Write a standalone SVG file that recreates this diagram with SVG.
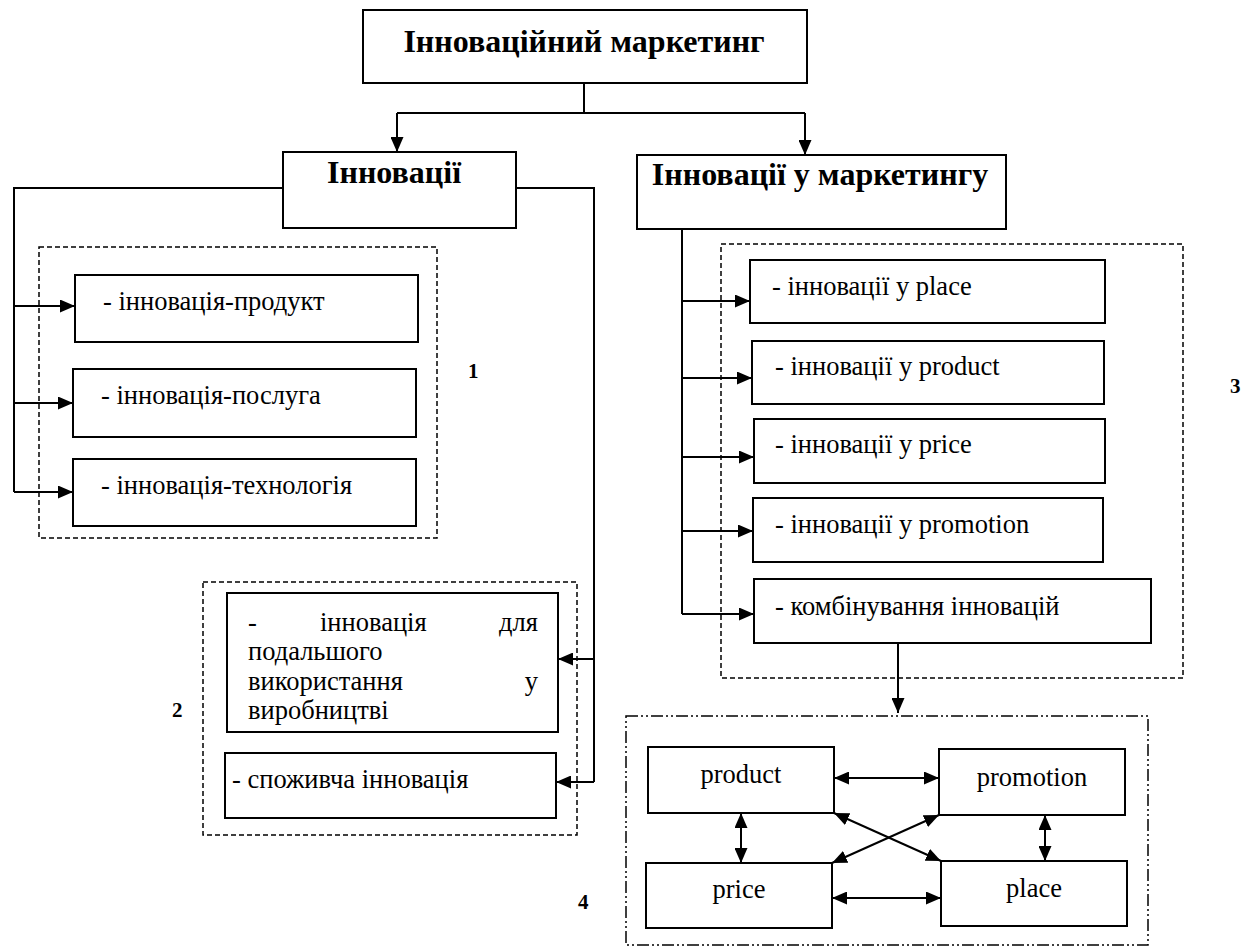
<svg xmlns="http://www.w3.org/2000/svg" width="1257" height="947" viewBox="0 0 1257 947" font-family="Liberation Serif, DejaVu Serif, serif">
<style>
.box{fill:#fff;stroke:#000;stroke-width:2}
.grp{fill:none;stroke:#000;stroke-width:1.5;stroke-dasharray:5 3}
.grp4{fill:none;stroke:#000;stroke-width:1.5;stroke-dasharray:12 3 2 3 2 3}
.ln{fill:none;stroke:#000;stroke-width:2}
.arr{marker-end:url(#ah)}
.dbl{marker-end:url(#ah);marker-start:url(#ah)}
.t{font-size:26.5px}
.b{font-size:32px;font-weight:bold}
.n{font-size:21px;font-weight:bold}
</style>
<defs>
<marker id="ah" markerUnits="userSpaceOnUse" markerWidth="15" markerHeight="13" refX="15" refY="6.5" orient="auto-start-reverse">
<path d="M0,0 L15,6.5 L0,13 z" fill="#000"/>
</marker>
</defs>
<g id="groups">
<rect class="grp" x="39" y="247" width="398" height="291"/>
<rect class="grp" x="203" y="582" width="374" height="253"/>
<rect class="grp" x="721" y="244" width="462" height="434"/>
<rect class="grp4" x="626" y="716" width="522" height="229"/>
</g>
<g id="connectors">
<path class="ln" d="M584,83 V113 M397,113 H805"/>
<path class="ln arr" d="M397,113 V152"/>
<path class="ln arr" d="M805,113 V155"/>
<path class="ln" d="M283,188 H14 V492"/>
<path class="ln arr" d="M14,306 H75"/>
<path class="ln arr" d="M14,403 H73"/>
<path class="ln arr" d="M14,492 H73"/>
<path class="ln" d="M516,188 H594 V782"/>
<path class="ln arr" d="M594,659 H558"/>
<path class="ln arr" d="M594,782 H556"/>
<path class="ln" d="M682,229 V614"/>
<path class="ln arr" d="M682,301 H750"/>
<path class="ln arr" d="M682,378 H752"/>
<path class="ln arr" d="M682,457 H754"/>
<path class="ln arr" d="M682,531 H753"/>
<path class="ln arr" d="M682,614 H754"/>
<path class="ln arr" d="M898,643 V713"/>
<path class="ln dbl" d="M834,778 H939"/>
<path class="ln dbl" d="M832,898 H941"/>
<path class="ln dbl" d="M741,813 V863"/>
<path class="ln dbl" d="M1045,815 V861"/>
<path class="ln dbl" d="M834,813 L941,861"/>
<path class="ln dbl" d="M939,815 L832,863"/>
</g>
<g id="n-top"><rect class="box" x="363" y="10" width="444" height="73"/><text class="b" x="584" y="52" text-anchor="middle">Інноваційний маркетинг</text></g>
<g id="n-inn"><rect class="box" x="283" y="152" width="233" height="76"/><text class="b" x="394" y="183" text-anchor="middle">Інновації</text></g>
<g id="n-innm"><rect class="box" x="637" y="155" width="369" height="74"/><text class="b" x="820" y="185" text-anchor="middle">Інновації у маркетингу</text></g>
<g id="n-l1"><rect class="box" x="75" y="275" width="343" height="67"/><text class="t" x="103" y="310">- інновація-продукт</text></g>
<g id="n-l2"><rect class="box" x="73" y="369" width="343" height="68"/><text class="t" x="101" y="404">- інновація-послуга</text></g>
<g id="n-l3"><rect class="box" x="73" y="459" width="343" height="67"/><text class="t" x="101" y="494">- інновація-технологія</text></g>
<g id="n-l4"><rect class="box" x="227" y="593" width="331" height="139"/>
<text class="t" x="248" y="631">-</text><text class="t" x="320" y="631">інновація</text><text class="t" x="538" y="631" text-anchor="end">для</text>
<text class="t" x="248" y="660">подальшого</text>
<text class="t" x="248" y="690">використання</text><text class="t" x="538" y="690" text-anchor="end">у</text>
<text class="t" x="248" y="719">виробництві</text></g>
<g id="n-l5"><rect class="box" x="225" y="753" width="331" height="65"/><text class="t" x="232" y="788">- споживча інновація</text></g>
<g id="n-r1"><rect class="box" x="750" y="260" width="355" height="63"/><text class="t" x="772" y="295">- інновації у place</text></g>
<g id="n-r2"><rect class="box" x="752" y="341" width="352" height="63"/><text class="t" x="775" y="375">- інновації у product</text></g>
<g id="n-r3"><rect class="box" x="754" y="419" width="351" height="64"/><text class="t" x="775" y="453">- інновації у price</text></g>
<g id="n-r4"><rect class="box" x="753" y="498" width="350" height="64"/><text class="t" x="775" y="533">- інновації у promotion</text></g>
<g id="n-r5"><rect class="box" x="754" y="579" width="397" height="64"/><text class="t" x="775" y="615">- комбінування інновацій</text></g>
<g id="n-product"><rect class="box" x="648" y="747" width="186" height="66"/><text class="t" x="741" y="783" text-anchor="middle">product</text></g>
<g id="n-promotion"><rect class="box" x="939" y="749" width="186" height="66"/><text class="t" x="1032" y="786" text-anchor="middle">promotion</text></g>
<g id="n-price"><rect class="box" x="646" y="863" width="186" height="65"/><text class="t" x="739" y="898" text-anchor="middle">price</text></g>
<g id="n-place"><rect class="box" x="941" y="861" width="186" height="65"/><text class="t" x="1034" y="897" text-anchor="middle">place</text></g>
<g id="labels">
<text class="n" x="468" y="378">1</text>
<text class="n" x="172" y="717">2</text>
<text class="n" x="1230" y="393">3</text>
<text class="n" x="578" y="909">4</text>
</g>
</svg>
